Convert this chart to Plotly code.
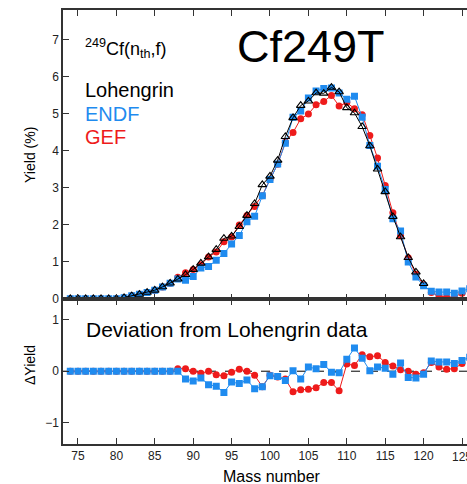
import numpy as np
import plotly.graph_objects as go

# Mass numbers of the light fragment group
mass = list(range(74, 127))

# Fragment yields (%) for 249Cf(n_th,f)
lohengrin = [0.00, 0.00, 0.00, 0.00, 0.00, 0.00, 0.00, 0.03, 0.08, 0.12,
             0.17, 0.23, 0.32, 0.42, 0.53, 0.65, 0.79, 0.96, 1.13, 1.33,
             1.63, 1.69, 1.95, 2.25, 2.57, 3.08, 3.31, 3.74, 4.38, 4.89,
             5.22, 5.34, 5.56, 5.55, 5.71, 5.59, 5.16, 5.02, 4.65, 4.13,
             3.50, 2.89, 2.22, 1.67, 1.11, 0.72, 0.41,
             None, None, None, None, None, None]

endf = [0.00, 0.00, 0.00, 0.00, 0.00, 0.00, 0.00, 0.03, 0.08, 0.12,
        0.17, 0.23, 0.32, 0.42, 0.53, 0.50, 0.60, 0.83, 0.87, 1.04,
        1.22, 1.48, 1.71, 2.08, 2.23, 2.78, 3.22, 3.64, 4.20, 4.90,
        5.07, 5.42, 5.61, 5.68, 5.69, 5.56, 5.39, 5.47, 4.90, 4.14,
        3.58, 2.95, 2.16, 1.83, 0.99, 0.59, 0.35,
        0.20, 0.18, 0.18, 0.15, 0.21, 0.27]

gef = [0.00, 0.00, 0.00, 0.00, 0.00, 0.00, 0.00, 0.03, 0.08, 0.12,
       0.17, 0.23, 0.32, 0.42, 0.58, 0.70, 0.79, 0.92, 1.13, 1.26,
       1.54, 1.67, 1.99, 2.25, 2.49, 2.78, 3.23, 3.63, 4.23, 4.49,
       4.86, 4.99, 5.24, 5.33, 5.49, 5.21, 5.30, 5.13, 4.97, 4.41,
       3.80, 3.06, 2.32, 1.70, 1.11, 0.66, 0.38,
       0.17, 0.08, 0.04, 0.05, 0.15, None]

x_ticks = [75, 80, 85, 90, 95, 100, 105, 110, 115, 120, 125]
y_ticks_top = [0, 1, 2, 3, 4, 5, 6, 7]
y_ticks_bottom = [-1, 0, 1]

BLUE = "#1f8bef"
RED = "#ee1b1b"
AXIS = "#333333"
FONT = "Liberation Sans, Arial, sans-serif"
TICK_FONT = dict(family=FONT, size=12, color="#222")


def as_array(values):
    return np.array([np.nan if v is None else v for v in values], dtype=float)


ref = np.nan_to_num(as_array(lohengrin), nan=0.0)
dev_endf = as_array(endf) - ref
dev_gef = as_array(gef) - ref

fig = go.Figure()

# Upper panel: yields
fig.add_trace(go.Scatter(x=mass, y=gef, mode="lines+markers", name="GEF",
                         line=dict(color=RED, width=1),
                         marker=dict(symbol="circle", size=7, color=RED),
                         xaxis="x", yaxis="y"))
fig.add_trace(go.Scatter(x=mass, y=endf, mode="lines+markers", name="ENDF",
                         line=dict(color=BLUE, width=1),
                         marker=dict(symbol="square", size=7, color=BLUE),
                         xaxis="x", yaxis="y"))
fig.add_trace(go.Scatter(x=mass, y=lohengrin, mode="lines+markers", name="Lohengrin",
                         line=dict(color="black", width=1),
                         marker=dict(symbol="triangle-up-open", size=7.5, color="black",
                                     line=dict(width=1.1)),
                         xaxis="x", yaxis="y"))

# Lower panel: deviation from Lohengrin data
fig.add_trace(go.Scatter(x=mass, y=dev_gef, mode="lines+markers",
                         line=dict(color=RED, width=1),
                         marker=dict(symbol="circle", size=7, color=RED),
                         xaxis="x2", yaxis="y2"))
fig.add_trace(go.Scatter(x=mass, y=dev_endf, mode="lines+markers",
                         line=dict(color=BLUE, width=1),
                         marker=dict(symbol="square", size=7, color=BLUE),
                         xaxis="x2", yaxis="y2"))

fig.add_shape(type="line", xref="x2 domain", yref="y2", x0=0, x1=1, y0=0, y1=0,
              line=dict(color="black", width=1, dash="dash"), layer="below")

# The last tick sits at the page edge; its label is placed by hand so the
# browser clips it instead of plotly dropping it.
last_tick = x_ticks[-1]
x_ticktext = [str(v) for v in x_ticks[:-1]] + [""]

x_range = [73.05, 125.65]
common_x = dict(range=x_range, tickvals=x_ticks, ticks="inside", ticklen=6,
                tickwidth=1.2, tickcolor=AXIS, showline=True, linecolor=AXIS,
                linewidth=1.5, mirror="allticks", showgrid=False, zeroline=False,
                tickfont=TICK_FONT)
common_y = dict(ticks="inside", ticklen=6, tickwidth=1.2, tickcolor=AXIS,
                showline=True, linecolor=AXIS, linewidth=1.5, mirror=False,
                showgrid=False, zeroline=False, tickfont=TICK_FONT)

fig.update_layout(
    width=467, height=484,
    margin=dict(l=63, r=0, t=10, b=40),
    paper_bgcolor="white", plot_bgcolor="white",
    showlegend=False,
    xaxis=dict(common_x, domain=[0, 1], anchor="y", showticklabels=False),
    yaxis=dict(common_y, domain=[0.333, 1], anchor="x", range=[-0.02, 7.8],
               tickvals=y_ticks_top),
    xaxis2=dict(common_x, domain=[0, 1], anchor="y2", matches="x",
                ticktext=x_ticktext),
    yaxis2=dict(common_y, domain=[0, 0.333], anchor="x2", range=[-1.41, 1.39],
                tickvals=y_ticks_bottom, ticktext=["\u22121", "0", "1"]),
)

fig.add_annotation(text=str(last_tick), xref="x2", yref="paper", x=last_tick, y=-0.03,
                   xanchor="center", yanchor="middle", showarrow=False,
                   font=TICK_FONT)

ann = [
    dict(text="Cf249T", x=0.614, y=0.915, size=45, color="black", xanchor="center"),
    dict(text="<sup>249</sup>Cf(n<sub>th</sub>,f)", x=0.0495, y=0.912, size=18,
         color="black", xanchor="left"),
    dict(text="Lohengrin", x=0.0495, y=0.8157, size=20, color="black", xanchor="left"),
    dict(text="ENDF", x=0.0495, y=0.760, size=20, color=BLUE, xanchor="left"),
    dict(text="GEF", x=0.0495, y=0.707, size=20, color=RED, xanchor="left"),
    dict(text="Deviation from Lohengrin data", x=0.052, y=0.2638, size=21,
         color="black", xanchor="left"),
    dict(text="Mass number", x=0.517, y=-0.076, size=16, color="black", xanchor="center"),
]
for a in ann:
    fig.add_annotation(text=a["text"], xref="paper", yref="paper", x=a["x"], y=a["y"],
                       xanchor=a["xanchor"], yanchor="middle", showarrow=False,
                       font=dict(family=FONT, size=a["size"], color=a["color"]))

for text, yp in [("Yield (%)", 0.666), ("\u0394Yield", 0.182)]:
    fig.add_annotation(text=text, xref="paper", yref="paper", x=-0.0817, y=yp,
                       xanchor="center", yanchor="middle", textangle=-90,
                       showarrow=False, font=dict(family=FONT, size=14, color="black"))

fig.write_html("out.html")
